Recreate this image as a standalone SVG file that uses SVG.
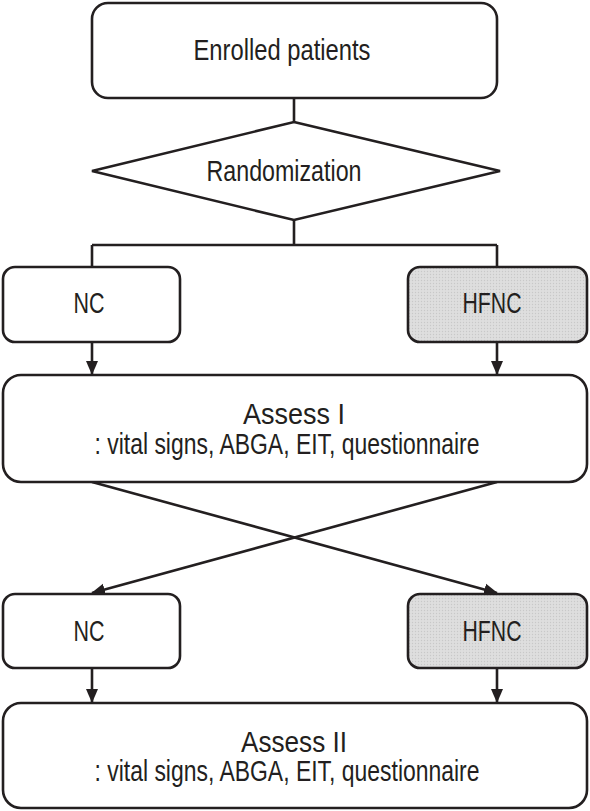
<svg xmlns="http://www.w3.org/2000/svg" width="590" height="811" viewBox="0 0 590 811">
<defs>
<style>
.box{fill:#fff;stroke:#231f20;stroke-width:2.6}
.gray{fill:#d9d9d9;stroke:#231f20;stroke-width:2.6}
.t{font-family:"Liberation Sans",Arial,sans-serif;font-size:29px;fill:#231f20;text-anchor:middle}
.ln{fill:none;stroke:#231f20;stroke-width:2.6}
</style>
<marker id="ah" markerWidth="14" markerHeight="14" refX="13" refY="7" orient="auto" markerUnits="userSpaceOnUse" viewBox="0 0 14 14">
<path d="M0,1 L14,7 L0,13 z" fill="#231f20"/>
</marker>
<pattern id="dots" width="3" height="3" patternUnits="userSpaceOnUse">
<rect width="3" height="3" fill="#dedede"/>
<circle cx="1.5" cy="1.5" r="0.7" fill="#c8c8c8"/>
</pattern>
</defs>
<rect width="590" height="811" fill="#fff"/>
<g id="connectors">
<path class="ln" d="M294,98 V122"/>
<path class="ln" d="M294,220 V245 M92,245 H497 M92,245 V267 M497,245 V267"/>
<path class="ln" d="M92,342 V374" marker-end="url(#ah)"/>
<path class="ln" d="M497,342 V374" marker-end="url(#ah)"/>
<path class="ln" d="M92,482 L497,593" marker-end="url(#ah)"/>
<path class="ln" d="M497,482 L92,593" marker-end="url(#ah)"/>
<path class="ln" d="M92,668 V702" marker-end="url(#ah)"/>
<path class="ln" d="M497,668 V702" marker-end="url(#ah)"/>
</g>
<g id="enrolled">
<rect class="box" x="92" y="3" width="405" height="95" rx="16"/>
<text class="t" x="282" y="60" textLength="177" lengthAdjust="spacingAndGlyphs">Enrolled patients</text>
</g>
<g id="randomization">
<polygon class="box" points="294,122 500,171 294,220 92,171"/>
<text class="t" x="284" y="181" textLength="155" lengthAdjust="spacingAndGlyphs">Randomization</text>
</g>
<g id="nc1">
<rect class="box" x="3" y="267" width="177" height="75" rx="12"/>
<text class="t" x="89" y="313" textLength="31" lengthAdjust="spacingAndGlyphs">NC</text>
</g>
<g id="hfnc1">
<rect class="gray" x="408" y="267" width="179" height="75" rx="12" style="fill:url(#dots)"/>
<text class="t" x="492" y="313" textLength="59" lengthAdjust="spacingAndGlyphs">HFNC</text>
</g>
<g id="assess1">
<rect class="box" x="3" y="375" width="584" height="107" rx="18"/>
<text class="t" x="294" y="424" textLength="102" lengthAdjust="spacingAndGlyphs">Assess I</text>
<text class="t" x="287" y="454" textLength="385" lengthAdjust="spacingAndGlyphs">: vital signs, ABGA, EIT, questionnaire</text>
</g>
<g id="nc2">
<rect class="box" x="3" y="594" width="177" height="74" rx="12"/>
<text class="t" x="89" y="641" textLength="31" lengthAdjust="spacingAndGlyphs">NC</text>
</g>
<g id="hfnc2">
<rect class="gray" x="408" y="594" width="179" height="74" rx="12" style="fill:url(#dots)"/>
<text class="t" x="492" y="641" textLength="59" lengthAdjust="spacingAndGlyphs">HFNC</text>
</g>
<g id="assess2">
<rect class="box" x="3" y="703" width="584" height="105" rx="18"/>
<text class="t" x="294" y="752" textLength="106" lengthAdjust="spacingAndGlyphs">Assess II</text>
<text class="t" x="287" y="781" textLength="385" lengthAdjust="spacingAndGlyphs">: vital signs, ABGA, EIT, questionnaire</text>
</g>
</svg>
